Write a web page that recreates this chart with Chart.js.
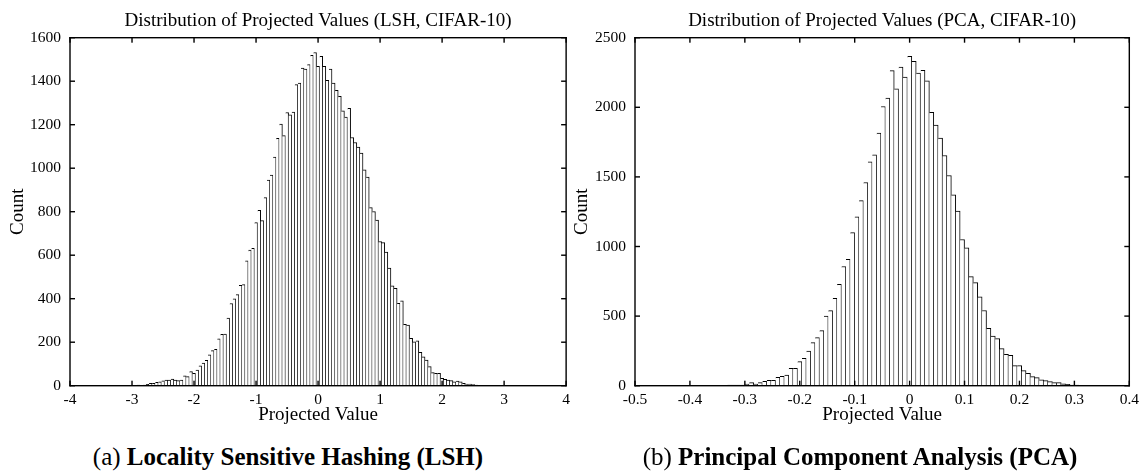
<!DOCTYPE html>
<html>
<head>
<meta charset="utf-8">
<script src="https://cdn.jsdelivr.net/npm/chart.js@4"></script>
<style>
  html, body { margin: 0; padding: 0; background: #fff; }
  body { width: 1144px; height: 475px; position: relative; overflow: hidden; font-family: 'Liberation Serif', 'Times New Roman', serif; }
  canvas { position: absolute; top: 0; }
  #lsh { left: 0; }
  #pca { left: 568px; }
  .caption { position: absolute; top: 442px; width: 560px; font-size: 25px; line-height: 30px; text-align: center; color: #000; white-space: nowrap; }
  .caption b { font-weight: bold; }
</style>
</head>
<body>
<canvas id="lsh" width="575" height="440"></canvas>
<canvas id="pca" width="576" height="440"></canvas>
<div class="caption" style="left: 8px;">(a) <b>Locality Sensitive Hashing (LSH)</b></div>
<div class="caption" style="left: 580px;">(b) <b>Principal Component Analysis (PCA)</b></div>
<script>
// LSH histogram: bins of 0.05, first bin centred at -3.65
const lshStart = -3.65;
const lshWidth = 0.05;
const lshCounts = [
  1, 0, 0, 1, 0, 1, 0, 1, 1, 0,
  1, 1, 2, 1, 2, 3, 2, 3, 6, 11,
  11, 15, 18, 22, 26, 26, 31, 26, 23, 26,
  45, 42, 65, 57, 72, 91, 104, 117, 142, 161,
  167, 216, 236, 237, 311, 378, 399, 419, 462, 465,
  574, 623, 632, 750, 806, 759, 865, 945, 968, 1051,
  1137, 1203, 1150, 1256, 1245, 1258, 1384, 1391, 1460, 1456,
  1476, 1519, 1532, 1468, 1514, 1468, 1404, 1456, 1391, 1358,
  1330, 1264, 1235, 1275, 1141, 1118, 1097, 1069, 992, 959,
  819, 801, 762, 663, 658, 614, 541, 459, 448, 379,
  390, 282, 279, 218, 202, 206, 153, 133, 118, 88,
  60, 57, 57, 34, 29, 26, 23, 18, 21, 18,
  11, 8, 8, 5, 3, 2, 2, 1, 1, 1,
  1, 0, 1, 0, 1, 0, 0, 1, 0, 0,
  1, 0, 0, 0, 1, 1
];
const lshXTicks = { min: -4, max: 4, step: 1 };
const lshYTicks = { min: 0, max: 1600, step: 200 };

// PCA histogram: bins of 0.008, first bin centred at -0.416
const pcaStart = -0.416;
const pcaWidth = 0.008;
const pcaCounts = [
  1, 0, 1, 0, 1, 1, 1, 2, 2, 3,
  3, 4, 4, 5, 5, 12, 22, 12, 22, 31,
  38, 38, 60, 67, 77, 125, 125, 173, 197, 249,
  309, 345, 396, 501, 539, 628, 729, 856, 908, 1100,
  1213, 1330, 1460, 1608, 1659, 1815, 2006, 2066, 2263, 2133,
  2289, 2217, 2366, 2330, 2246, 2265, 2191, 1963, 1872, 1779,
  1654, 1510, 1371, 1254, 1050, 990, 784, 741, 638, 540,
  412, 357, 338, 266, 225, 218, 144, 144, 108, 89,
  65, 58, 43, 36, 29, 22, 22, 14, 10, 5,
  5, 3, 2, 1, 2, 1, 0, 1, 0, 1
];
const pcaXTicks = { min: -0.5, max: 0.4, step: 0.1 };
const pcaYTicks = { min: 0, max: 2500, step: 500 };

const serif = 'Liberation Serif';
Chart.defaults.color = '#000';
Chart.defaults.font.family = serif;

function toPoints(start, width, counts) {
  return counts.map((c, i) => ({ x: +(start + i * width).toFixed(4), y: c }));
}

// box around the plot and inward tics on all four sides (gnuplot look)
const frameTicks = {
  id: 'frameTicks',
  afterDraw(chart) {
    const ctx = chart.ctx;
    const a = chart.chartArea;
    const x = chart.scales.x, y = chart.scales.y;
    const len = 5, w = 1.4, h = w / 2;
    ctx.save();
    ctx.fillStyle = '#000';
    x.ticks.forEach(tk => {
      const px = x.getPixelForValue(tk.value);
      ctx.fillRect(px - h, a.bottom - len, w, len);
      ctx.fillRect(px - h, a.top, w, len);
    });
    y.ticks.forEach(tk => {
      const py = y.getPixelForValue(tk.value);
      ctx.fillRect(a.left, py - h, len, w);
      ctx.fillRect(a.right - len, py - h, len, w);
    });
    ctx.fillRect(a.left - h, a.top - h, a.width + w, w);
    ctx.fillRect(a.left - h, a.bottom - h, a.width + w, w);
    ctx.fillRect(a.left - h, a.top - h, w, a.height + w);
    ctx.fillRect(a.right - h, a.top - h, w, a.height + w);
    ctx.restore();
  }
};

function makeHistogram(id, opts) {
  const ctx = document.getElementById(id).getContext('2d');
  return new Chart(ctx, {
    type: 'bar',
    data: {
      datasets: [{
        data: toPoints(opts.start, opts.width, opts.counts),
        backgroundColor: '#ffffff',
        borderColor: '#000000',
        borderWidth: { top: 1, right: 1, bottom: 0, left: 0 },
        borderSkipped: false,
        barPercentage: 1,
        categoryPercentage: 1
      }]
    },
    options: {
      responsive: false,
      animation: false,
      events: [],
      layout: { padding: { left: 0, right: opts.padRight, top: 0, bottom: 0 } },
      plugins: {
        legend: { display: false },
        tooltip: { enabled: false },
        title: {
          display: true,
          fullSize: false,
          text: opts.title,
          font: { family: serif, size: 19, weight: 'normal', lineHeight: 1.2 },
          color: '#000',
          padding: { top: 9.6, bottom: 5.3 }
        }
      },
      scales: {
        x: {
          type: 'linear',
          offset: false,
          min: opts.xTicks.min,
          max: opts.xTicks.max,
          grid: { display: false, drawTicks: false, offset: false },
          border: { display: false },
          ticks: {
            stepSize: opts.xTicks.step,
            autoSkip: false,
            maxRotation: 0,
            padding: 5,
            font: { family: serif, size: 15.5 },
            color: '#000'
          },
          title: {
            display: true,
            text: 'Projected Value',
            font: { family: serif, size: 19, lineHeight: 1.2 },
            color: '#000',
            padding: { top: 0, bottom: 13.2 }
          },
          afterFit(scale) { scale.height = 440 - 385.7; }
        },
        y: {
          min: opts.yTicks.min,
          max: opts.yTicks.max,
          grid: { display: false, drawTicks: false },
          border: { display: false },
          ticks: {
            stepSize: opts.yTicks.step,
            padding: 9,
            format: { useGrouping: false },
            font: { family: serif, size: 15.5 },
            color: '#000'
          },
          title: {
            display: true,
            text: 'Count',
            font: { family: serif, size: 19, lineHeight: 1.2 },
            color: '#000',
            padding: { top: opts.countPad, bottom: 0 }
          },
          afterFit(scale) { scale.width = opts.yWidth; }
        }
      }
    },
    plugins: [frameTicks]
  });
}

makeHistogram('lsh', {
  start: lshStart, width: lshWidth, counts: lshCounts,
  xTicks: lshXTicks, yTicks: lshYTicks,
  title: 'Distribution of Projected Values (LSH, CIFAR-10)',
  yWidth: 70, padRight: 8, countPad: 6.6
});

makeHistogram('pca', {
  start: pcaStart, width: pcaWidth, counts: pcaCounts,
  xTicks: pcaXTicks, yTicks: pcaYTicks,
  title: 'Distribution of Projected Values (PCA, CIFAR-10)',
  yWidth: 67, padRight: 12, countPad: 2.6
});
</script>
</body>
</html>
